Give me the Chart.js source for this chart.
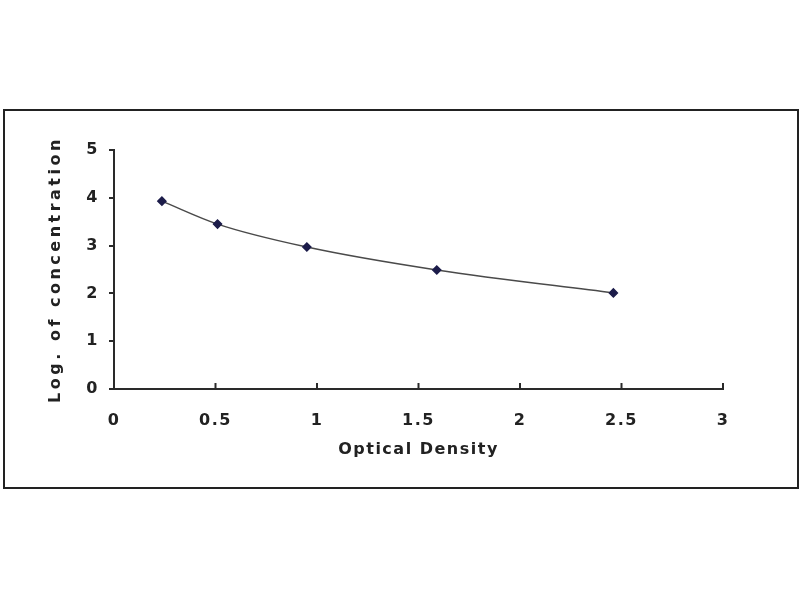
<!DOCTYPE html>
<html>
<head>
<meta charset="utf-8">
<script src="https://cdn.jsdelivr.net/npm/chart.js@4"></script>
<style>
    html, body { margin: 0; padding: 0; background: #fff; }
    #frame {
        position: absolute;
        left: 3px; top: 109px;
        width: 792px; height: 376px;
        border: 2px solid #222;
    }
    #wrap { position: absolute; left: 0; top: 0; width: 800px; height: 600px; }
</style>
</head>
<body>
<div id="frame"></div>
<div id="wrap"><canvas id="curveChart" width="800" height="600"></canvas></div>
<script>
// Data
const opticalDensity = [0.236, 0.51, 0.95, 1.59, 2.46];
const logConcentration = [3.93, 3.45, 2.97, 2.49, 2.01];

const xTickValues = [0, 0.5, 1, 1.5, 2, 2.5, 3];

const axisColor = '#2a2a2a';
const labelFont = { family: 'DejaVu Sans, Verdana, sans-serif', size: 16, weight: 'bold' };

// the reference text is spaced out a little; the y title more so
const spacedText = {
    id: 'spacedText',
    beforeDraw(chart) {
        chart.ctx.letterSpacing = '1.5px';
        const y = chart.scales.y;
        if (!y._spacedPatch) {
            const orig = y.drawTitle;
            y.drawTitle = function () {
                const ctx = this.ctx;
                ctx.letterSpacing = '3.5px';
                orig.call(this);
                ctx.letterSpacing = '1.5px';
            };
            y._spacedPatch = true;
        }
    }
};

// x ticks in the reference point up into the plot, so draw them by hand
const innerTicks = {
    id: 'innerTicks',
    afterDraw(chart) {
        const ctx = chart.ctx;
        const x = chart.scales.x;
        ctx.save();
        ctx.strokeStyle = axisColor;
        ctx.lineWidth = 2;
        xTickValues.forEach(v => {
            const px = x.getPixelForValue(v);
            ctx.beginPath();
            ctx.moveTo(px, x.top);
            ctx.lineTo(px, x.top - 6);
            ctx.stroke();
        });
        ctx.restore();
    }
};

new Chart(document.getElementById('curveChart').getContext('2d'), {
    type: 'scatter',
    data: {
        datasets: [{
            data: opticalDensity.map((od, i) => ({ x: od, y: logConcentration[i] })),
            showLine: true,
            cubicInterpolationMode: 'monotone',
            borderColor: '#4a4a4a',
            borderWidth: 1.5,
            pointStyle: 'rectRot',
            pointRadius: 4,
            pointBackgroundColor: '#1c1c4a',
            pointBorderColor: '#1c1c4a'
        }]
    },
    options: {
        responsive: false,
        animation: false,
        layout: { padding: { left: 46, right: 77, top: 150, bottom: 131 } },
        plugins: {
            legend: { display: false },
            tooltip: { enabled: false }
        },
        scales: {
            x: {
                type: 'linear',
                min: 0,
                max: 3,
                afterFit(scale) { scale.height = 80; },
                afterBuildTicks(scale) { scale.ticks = xTickValues.map(v => ({ value: v })); },
                border: { color: axisColor, width: 2 },
                grid: { display: false, drawTicks: false },
                ticks: {
                    color: '#222',
                    font: labelFont,
                    padding: 22,
                    maxRotation: 0,
                    callback: v => String(v)
                },
                title: {
                    display: true,
                    text: 'Optical Density',
                    color: '#222',
                    font: labelFont,
                    padding: { top: 0, bottom: 10 }
                }
            },
            y: {
                min: 0,
                max: 5,
                afterFit(scale) { scale.width = 68; },
                border: { color: axisColor, width: 2 },
                grid: { drawOnChartArea: false, tickLength: 5, color: axisColor, lineWidth: 2 },
                ticks: { stepSize: 1, color: '#222', font: labelFont, padding: 10 },
                title: {
                    display: true,
                    text: 'Log. of concentration',
                    color: '#222',
                    font: labelFont,
                    padding: { top: 0, bottom: 0 }
                }
            }
        }
    },
    plugins: [spacedText, innerTicks]
});
</script>
</body>
</html>
